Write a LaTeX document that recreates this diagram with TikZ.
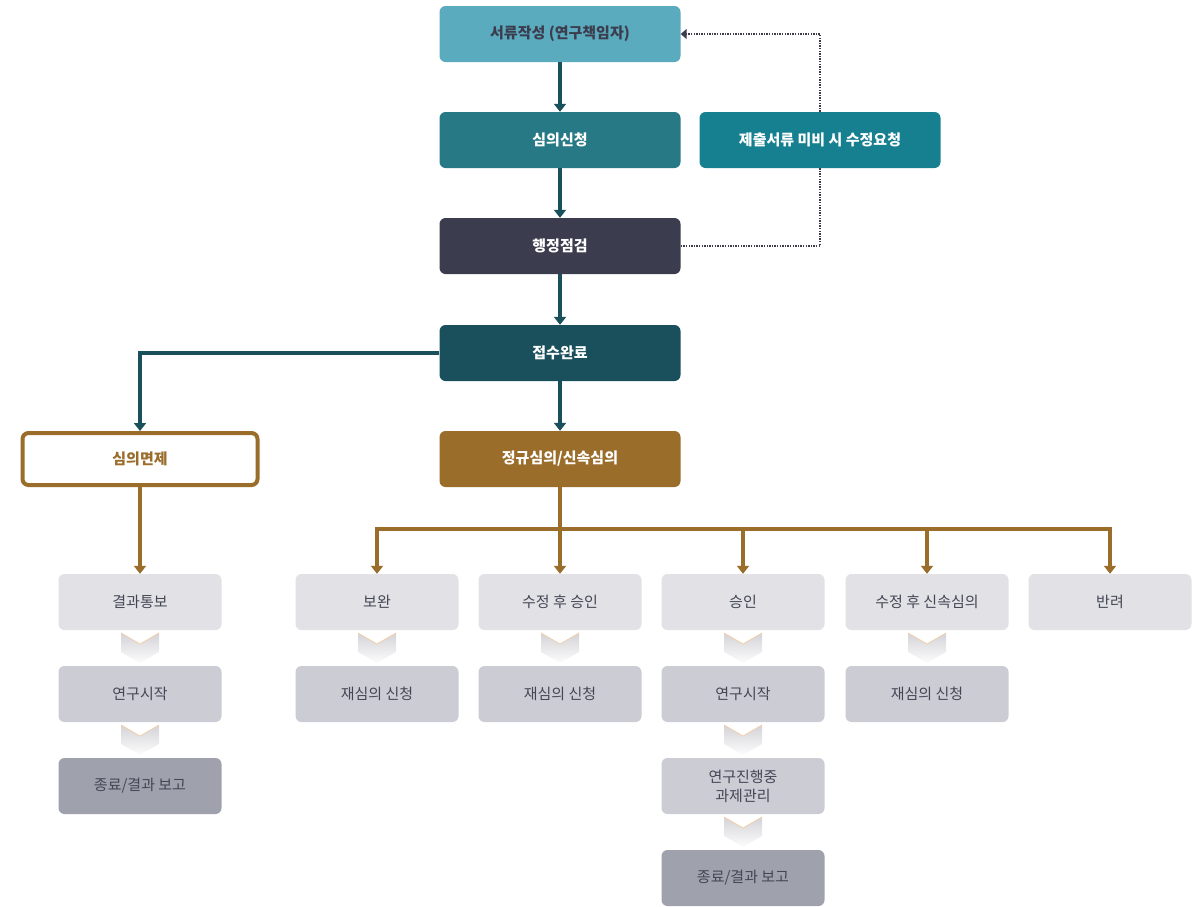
\documentclass[tikz,border=0pt]{standalone}
\usepackage{fontspec}
\setmainfont{Noto Sans CJK KR}
\usetikzlibrary{arrows.meta,calc}
\definecolor{cDoc}{HTML}{5AABBD}
\definecolor{cApply}{HTML}{287986}
\definecolor{cCheck}{HTML}{3B3D4F}
\definecolor{cRecv}{HTML}{1A505C}
\definecolor{cReq}{HTML}{168091}
\definecolor{cBrown}{HTML}{9A6D2B}
\definecolor{cRowA}{HTML}{E1E1E6}
\definecolor{cRowB}{HTML}{CBCCD4}
\definecolor{cEnd}{HTML}{9FA1AD}
\definecolor{cGrey}{HTML}{434754}
\definecolor{cEdge}{HTML}{F2CFA8}
\begin{document}
\begin{tikzpicture}[x=1pt,y=-1pt,
		topbox/.style={rounded corners=6pt,minimum width=241pt,minimum height=56pt,inner sep=0pt,
			text=white,font=\fontsize{15}{18}\selectfont\bfseries},
		subbox/.style={rounded corners=6pt,minimum width=163pt,minimum height=56pt,inner sep=0pt,
			text=cGrey,align=center,font=\fontsize{15}{19}\selectfont},
		tealline/.style={draw=cRecv,line width=4pt,-{Triangle[width=12pt,length=8pt]}},
		brownline/.style={draw=cBrown,line width=4pt,-{Triangle[width=12pt,length=8pt]}},
		dotline/.style={draw=cCheck,line width=2pt,dash pattern=on 1.4pt off 1.2pt},
		chev/.pic={
			\shade[top color=cRowA!90!black!60!cRowA,bottom color=white!92!cRowA] (-19,-15) -- (0,-4) -- (19,-15) -- (19,4) -- (0,15) -- (-19,4) -- cycle;
			\draw[cEdge,line width=0.8pt] (-19,-15) -- (0,-4) -- (19,-15);
		}]
	\useasboundingbox (0,0) rectangle (1204,906);
	\node[topbox,fill=cDoc,text=cCheck] (seoryu) at (560,34) {서류작성 (연구책임자)};
	\node[topbox,fill=cApply] (sincheong) at (560,140) {심의신청};
	\node[topbox,fill=cCheck] (jeomgeom) at (560,246) {행정점검};
	\node[topbox,fill=cRecv] (jeopsu) at (560,353) {접수완료};
	\node[topbox,fill=cReq] (yocheong) at (820,140) {제출서류 미비 시 수정요청};
	\node[topbox,draw=cBrown,line width=4pt,fill=white,text=cBrown,minimum width=235pt,minimum height=52pt] (myeonje) at (140,459) {심의면제};
	\node[topbox,fill=cBrown] (jeonggyu) at (560,459) {정규심의/신속심의};
	\node[subbox,fill=cRowA] (tongbo) at (140,602) {결과통보};
	\node[subbox,fill=cRowA] (bowan) at (377,602) {보완};
	\node[subbox,fill=cRowA] (sujeong) at (560,602) {수정 후 승인};
	\node[subbox,fill=cRowA] (seungin) at (743,602) {승인};
	\node[subbox,fill=cRowA] (sinsok) at (927,602) {수정 후 신속심의};
	\node[subbox,fill=cRowA] (banryeo) at (1110,602) {반려};
	\node[subbox,fill=cRowB] (sijakA) at (140,694) {연구시작};
	\node[subbox,fill=cRowB] (jaeA) at (377,694) {재심의 신청};
	\node[subbox,fill=cRowB] (jaeB) at (560,694) {재심의 신청};
	\node[subbox,fill=cRowB] (sijakB) at (743,694) {연구시작};
	\node[subbox,fill=cRowB] (jaeC) at (927,694) {재심의 신청};
	\node[subbox,fill=cEnd] (jongryoA) at (140,786) {종료/결과 보고};
	\node[subbox,fill=cRowB] (gwanri) at (743,786) {연구진행중\\과제관리};
	\node[subbox,fill=cEnd] (jongryoB) at (743,878) {종료/결과 보고};
	\coordinate (split) at (560,529);
	\draw[tealline] (seoryu) -- (sincheong);
	\draw[tealline] (sincheong) -- (jeomgeom);
	\draw[tealline] (jeomgeom) -- (jeopsu);
	\draw[tealline] (jeopsu) -- (jeonggyu);
	\draw[tealline] (jeopsu.west) -| (myeonje.north);
	\draw[dotline] (jeomgeom.east) -| (yocheong.south);
	\draw[dotline,-{Triangle[width=10pt,length=6pt]}] (yocheong.north) |- (seoryu.east);
	\draw[brownline] (myeonje) -- (tongbo);
	\draw[draw=cBrown,line width=4pt] (jeonggyu) -- (split);
	\foreach \n in {bowan,sujeong,seungin,sinsok,banryeo}
		\draw[brownline] (split) -| (\n.north);
	\foreach \a/\b in {tongbo/sijakA,sijakA/jongryoA,bowan/jaeA,sujeong/jaeB,seungin/sijakB,sijakB/gwanri,gwanri/jongryoB,sinsok/jaeC}
		\pic at ($(\a.south)!0.5!(\b.north)$) {chev};
\end{tikzpicture}
\end{document}
